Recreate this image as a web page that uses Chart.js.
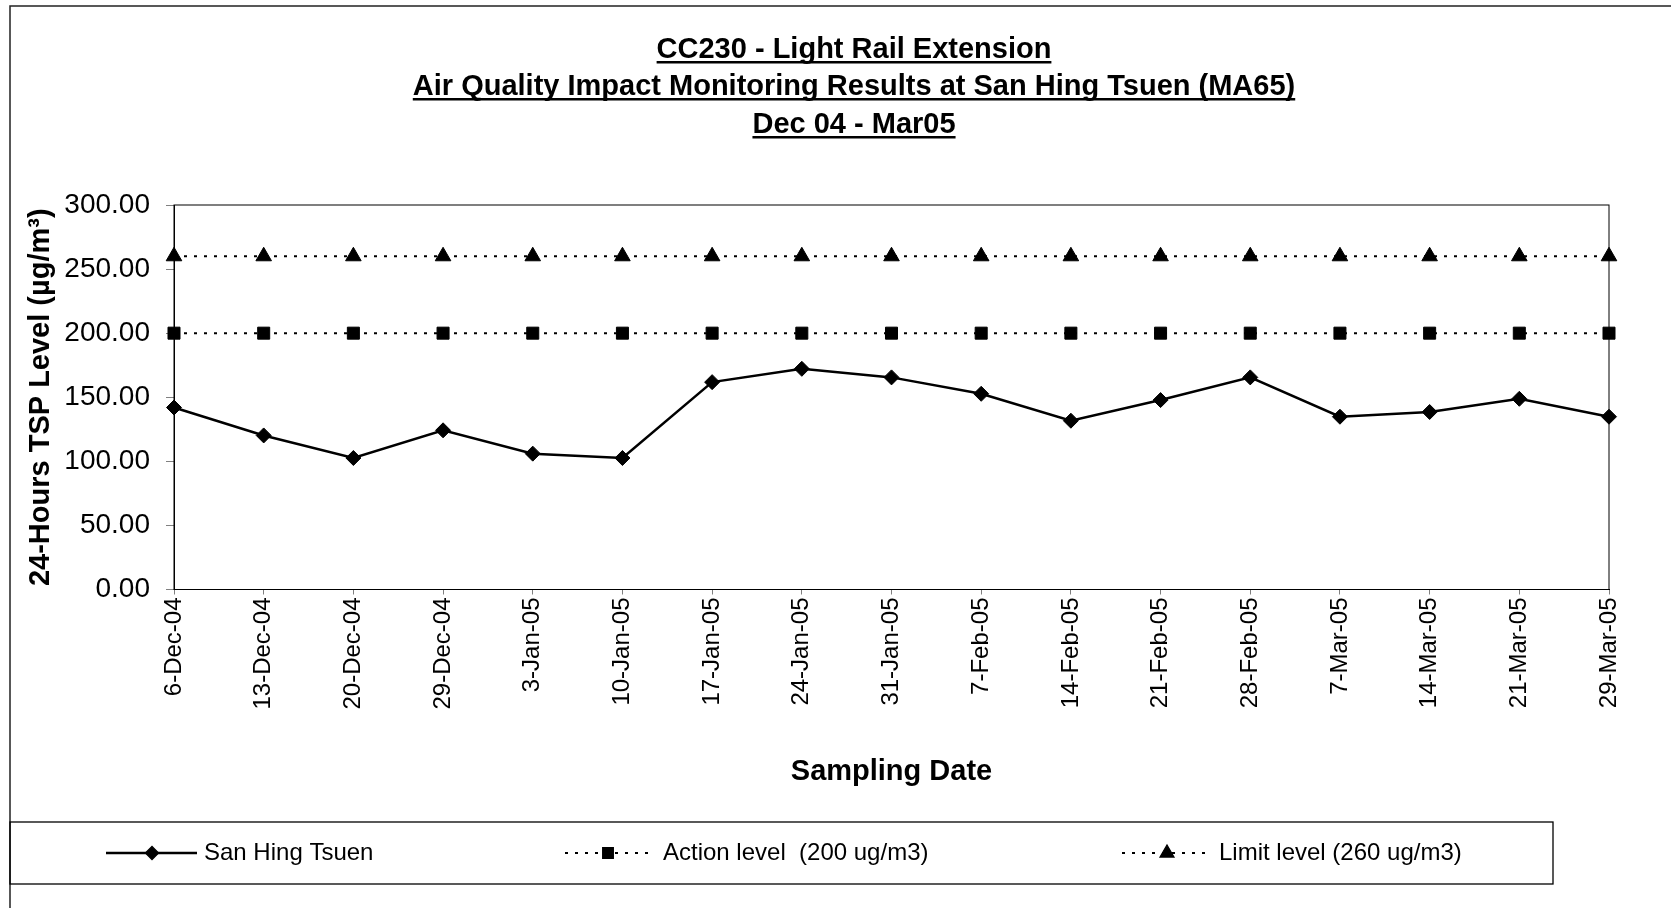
<!DOCTYPE html>
<html>
<head>
<meta charset="utf-8">
<script src="https://cdn.jsdelivr.net/npm/chart.js@4.4.1/dist/chart.umd.min.js"></script>
<style>
    html, body { margin: 0; padding: 0; background: #fff; }
    #wrap { width: 1671px; height: 908px; }
</style>
</head>
<body>
<div id="wrap"><canvas id="mainChart" width="1671" height="908"></canvas></div>
<script>
// Chart data
const samplingDates = ['6-Dec-04', '13-Dec-04', '20-Dec-04', '29-Dec-04', '3-Jan-05', '10-Jan-05',
    '17-Jan-05', '24-Jan-05', '31-Jan-05', '7-Feb-05', '14-Feb-05', '21-Feb-05', '28-Feb-05',
    '7-Mar-05', '14-Mar-05', '21-Mar-05', '29-Mar-05'];
const sanHingTsuen = [142.0, 120.2, 102.6, 124.2, 106.0, 102.6, 161.8, 172.2, 165.5, 152.7,
    131.7, 147.8, 165.5, 134.8, 138.5, 148.8, 134.8];
const actionLevel = [200, 200, 200, 200, 200, 200, 200, 200, 200, 200, 200, 200, 200, 200, 200, 200, 200];
const limitLevel = [260, 260, 260, 260, 260, 260, 260, 260, 260, 260, 260, 260, 260, 260, 260, 260, 260];
const yMin = 0;
const yMax = 300;
const yStep = 50;
const seriesNames = ['San Hing Tsuen', 'Action level  (200 ug/m3)', 'Limit level (260 ug/m3)'];
const titleLines = ['CC230 - Light Rail Extension',
    'Air Quality Impact Monitoring Results at San Hing Tsuen (MA65)',
    'Dec 04 - Mar05'];

const FONT = "'Liberation Sans', Arial, Helvetica, sans-serif";

// Title, outer frame, plot box and legend
const decorPlugin = {
    id: 'decor',
    beforeDatasetsDraw(chart) {
        const ctx = chart.ctx;
        const a = chart.chartArea;
        ctx.save();
        ctx.strokeStyle = '#000';
        ctx.lineWidth = 1;
        ctx.strokeRect(a.left, a.top, a.right - a.left, a.bottom - a.top);
        ctx.restore();
    },
    afterDraw(chart) {
        const ctx = chart.ctx;
        ctx.save();

        // outer chart frame (runs off the right and bottom)
        ctx.strokeStyle = '#222';
        ctx.lineWidth = 1.5;
        ctx.strokeRect(10, 6, 2000, 2000);

        // title, bold and underlined
        ctx.fillStyle = '#000';
        ctx.font = 'bold 29px ' + FONT;
        ctx.textAlign = 'center';
        ctx.textBaseline = 'alphabetic';
        const baselines = [57.5, 94.5, 132.5];
        titleLines.forEach((t, i) => {
            ctx.fillText(t, 854, baselines[i]);
            const w = ctx.measureText(t).width;
            ctx.fillRect(854 - w / 2, baselines[i] + 3.5, w, 2.5);
        });

        // legend
        ctx.strokeStyle = '#000';
        ctx.lineWidth = 1.3;
        ctx.strokeRect(10, 822, 1543, 62);
        const items = [
            { ds: 0, x0: 106, x1: 197, mx: 152, tx: 204 },
            { ds: 1, x0: 565, x1: 652, mx: 608, tx: 663 },
            { ds: 2, x0: 1122, x1: 1208, mx: 1167, tx: 1219 }
        ];
        const ly = 853;
        ctx.font = '24px ' + FONT;
        ctx.textAlign = 'left';
        items.forEach(it => {
            const d = chart.data.datasets[it.ds];
            ctx.save();
            ctx.strokeStyle = '#000';
            ctx.lineWidth = d.borderWidth;
            ctx.setLineDash(d.borderDash || []);
            ctx.beginPath();
            ctx.moveTo(it.x0, ly);
            ctx.lineTo(it.x1, ly);
            ctx.stroke();
            ctx.restore();
            Chart.helpers.drawPoint(ctx, {
                pointStyle: d.pointStyle,
                radius: d.pointRadius - 1,
                borderWidth: 1,
                rotation: 0
            }, it.mx, ly);
            ctx.fillStyle = '#000';
            ctx.fillText(d.label, it.tx, ly + 7);
        });

        ctx.restore();
    }
};

function initializeTspChart() {
    const ctx = document.getElementById('mainChart').getContext('2d');
    ctx.fillStyle = '#000';
    ctx.strokeStyle = '#000';
    new Chart(ctx, {
        type: 'line',
        data: {
            labels: samplingDates,
            datasets: [{
                label: seriesNames[0],
                data: sanHingTsuen,
                borderColor: '#000',
                backgroundColor: '#000',
                borderWidth: 2.5,
                pointStyle: 'rectRot',
                pointRadius: 7.5,
                pointBorderWidth: 1,
                tension: 0,
                clip: false
            }, {
                label: seriesNames[1],
                data: actionLevel,
                borderColor: '#000',
                backgroundColor: '#000',
                borderWidth: 2,
                borderDash: [3, 7],
                pointStyle: 'rect',
                pointRadius: 8.5,
                pointBorderWidth: 1,
                tension: 0,
                clip: false
            }, {
                label: seriesNames[2],
                data: limitLevel,
                borderColor: '#000',
                backgroundColor: '#000',
                borderWidth: 2,
                borderDash: [3, 7],
                pointStyle: 'triangle',
                pointRadius: 9,
                pointBorderWidth: 1,
                tension: 0,
                clip: false
            }]
        },
        options: {
            responsive: false,
            devicePixelRatio: 1,
            animation: false,
            layout: {
                padding: { left: 10, top: 205, right: 62, bottom: 108 }
            },
            plugins: {
                legend: { display: false },
                title: { display: false },
                tooltip: { enabled: false }
            },
            scales: {
                x: {
                    type: 'category',
                    offset: false,
                    afterFit(scale) { scale.height = 210.5; },
                    grid: {
                        display: true,
                        drawOnChartArea: false,
                        drawTicks: true,
                        tickLength: 5,
                        color: '#808080'
                    },
                    border: { display: true, color: '#000', width: 1 },
                    ticks: {
                        autoSkip: false,
                        maxRotation: 90,
                        minRotation: 90,
                        padding: 3,
                        color: '#000',
                        font: { family: FONT, size: 24 }
                    },
                    title: {
                        display: true,
                        text: 'Sampling Date',
                        color: '#000',
                        font: { family: FONT, size: 29, weight: 'bold', lineHeight: 1.2 },
                        padding: { top: 0, bottom: 10.5 }
                    }
                },
                y: {
                    min: yMin,
                    max: yMax,
                    afterFit(scale) { scale.width = 164; },
                    grid: {
                        display: true,
                        drawOnChartArea: false,
                        drawTicks: true,
                        tickLength: 8,
                        color: '#808080'
                    },
                    border: { display: true, color: '#000', width: 1 },
                    ticks: {
                        stepSize: yStep,
                        padding: 16,
                        color: '#000',
                        font: { family: FONT, size: 28 },
                        callback: v => Number(v).toFixed(2)
                    },
                    title: {
                        display: true,
                        text: '24-Hours TSP Level (µg/m³)',
                        color: '#000',
                        font: { family: FONT, size: 29, weight: 'bold', lineHeight: 1.2 },
                        padding: { top: 13.5, bottom: 0 }
                    }
                }
            }
        },
        plugins: [decorPlugin]
    });
}

initializeTspChart();
</script>
</body>
</html>
